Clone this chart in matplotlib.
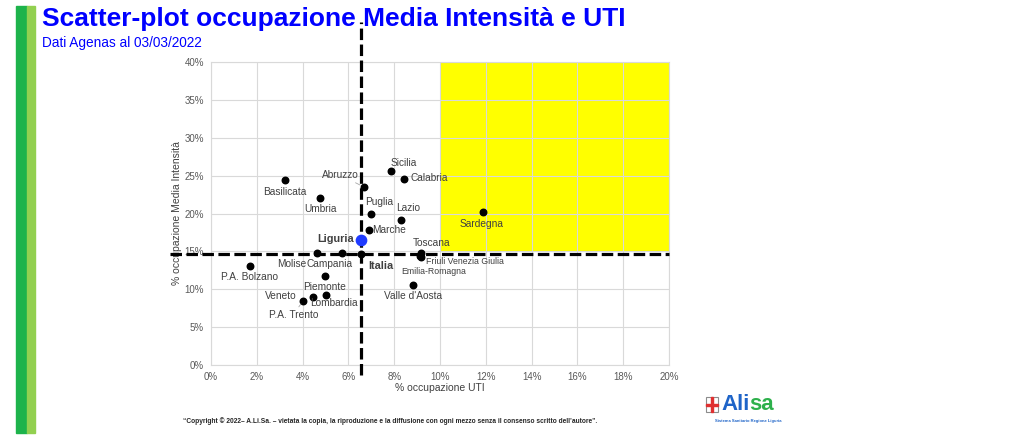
import matplotlib
matplotlib.use("Agg")
import matplotlib.pyplot as plt
from matplotlib.patches import Rectangle
from matplotlib.ticker import PercentFormatter

plt.rcParams['font.family'] = ['Liberation Sans', 'DejaVu Sans']

# % occupazione UTI (x) e Media Intensità (y)
regioni = ["Basilicata", "Umbria", "Abruzzo", "Sicilia", "Calabria", "Puglia",
           "Lazio", "Marche", "Molise", "Campania", "P.A. Bolzano", "Piemonte",
           "P.A. Trento", "Veneto", "Lombardia", "Valle d'Aosta", "Toscana",
           "Friuli Venezia Giulia", "Emilia-Romagna", "Sardegna"]
uti = [3.23, 4.76, 6.68, 7.86, 8.43, 6.99, 8.28, 6.91, 4.64, 5.71, 1.70, 4.98,
       4.03, 4.47, 5.01, 8.83, 9.17, 9.17, 9.13, 11.86]
media = [24.4, 22.1, 23.5, 25.6, 24.5, 19.9, 19.2, 17.8, 14.8, 14.8, 13.1, 11.8,
         8.5, 9.0, 9.2, 10.5, 14.75, 14.2, 14.4, 20.2]
# offset etichette in pixel (dx, dy verso l'alto) e allineamento
offsets = [(0, -12, 'center'), (0, -11, 'center'), (-24, 12, 'center'),
           (13, 8, 'center'), (6, 1, 'left'), (8, 12, 'center'),
           (8, 12, 'center'), (3, 0, 'left'), (-11, -11, 'right'),
           (-12, -11, 'center'), (0, -11, 'center'), (0, -11, 'center'),
           (-10, -14, 'center'), (-17, 1, 'right'), (8, -8, 'center'),
           (0, -11, 'center'), (11, 10, 'center'), (5, -4, 'left'),
           (14, -16, 'center'), (-1, -12, 'center')]
leader = ["Abruzzo", "P.A. Trento"]
small = ["Friuli Venezia Giulia", "Emilia-Romagna"]

liguria = (6.56, 16.5)
italia = (6.56, 14.65)

W, H = 1024, 442
fig = plt.figure(figsize=(W / 100, H / 100), dpi=100)


def fx(px):
    return px / W


def fy(py):
    return 1 - py / H


# barre verdi laterali
fig.patches.append(Rectangle((fx(16), fy(433)), fx(11), (433 - 6) / H,
                             transform=fig.transFigure, color='#1DB34B'))
fig.patches.append(Rectangle((fx(27), fy(433)), fx(8), (433 - 6) / H,
                             transform=fig.transFigure, color='#92D050'))

fig.text(fx(42), fy(19), "Scatter-plot occupazione Media Intensità e UTI",
         color='#0000FF', fontsize=19, fontweight='bold', va='center')
fig.text(fx(42), fy(43), "Dati Agenas al 03/03/2022", color='#0000FF',
         fontsize=9.8, va='center')

ax = fig.add_axes([fx(211), fy(365), fx(669 - 211), (365 - 62) / H])
ax.set_xlim(0, 20)
ax.set_ylim(0, 40)
ax.set_xticks(range(0, 21, 2))
ax.set_yticks(range(0, 41, 5))
ax.xaxis.set_major_formatter(PercentFormatter(decimals=0))
ax.yaxis.set_major_formatter(PercentFormatter(decimals=0))
ax.tick_params(length=0, labelsize=7, labelcolor='#595959', pad=5)
ax.grid(True, color='#D9D9D9', lw=0.8)
ax.set_axisbelow(True)
for s in ax.spines.values():
    s.set_color('#D9D9D9')
    s.set_linewidth(0.8)

ax.add_patch(Rectangle((10, 15), 10, 25, facecolor='#FFFF00',
                       edgecolor='#BFBFBF', lw=0.6, zorder=0.3))

ax.set_xlabel("% occupazione UTI", fontsize=7.5, color='#404040', labelpad=1)
ax.set_ylabel("% occupazione Media Intensità", fontsize=7.5, color='#404040',
              labelpad=2)

# linee di riferimento Italia
ax.plot([italia[0], italia[0]], [-1.3, 45.3], color='black', lw=2.3,
        dashes=(3.6, 1.4), clip_on=False, zorder=3)
ax.plot([-1.8, 20], [italia[1], italia[1]], color='black', lw=2.3,
        dashes=(3.6, 1.4), clip_on=False, zorder=3)

ax.scatter(uti, media, s=22, color='black', zorder=4)
for name, x, y, (dx, dy, ha) in zip(regioni, uti, media, offsets):
    fs = 6.3 if name in small else 7.3
    props = None
    if name in leader:
        props = dict(arrowstyle='-', color='#A6A6A6', lw=0.6,
                     shrinkA=0, shrinkB=3)
    ax.annotate(name, (x, y), xytext=(dx, dy), textcoords='offset pixels',
                ha=ha, va='center', fontsize=fs, color='#404040',
                arrowprops=props, zorder=5)

ax.scatter([italia[0]], [italia[1]], s=22, color='black', zorder=4)
ax.annotate("Italia", italia, xytext=(7, -12), textcoords='offset pixels',
            ha='left', va='center', fontsize=7.8, fontweight='bold',
            color='#404040', zorder=5)
ax.scatter([liguria[0]], [liguria[1]], s=55, color='#1F3BFF', zorder=5)
ax.annotate("Liguria", liguria, xytext=(-7, 1), textcoords='offset pixels',
            ha='right', va='center', fontsize=7.8, fontweight='bold',
            color='#404040', zorder=5)

fig.text(fx(183), fy(421),
         "\u201cCopyright \u00a9 2022\u2013 A.Li.Sa. \u2013 vietata la copia, la riproduzione e la "
         "diffusione con ogni mezzo senza il consenso scritto dell\u2019autore\u201d.",
         fontsize=4.8, color='#262626', va='center', fontweight='bold')

# logo Alisa
fig.patches.append(Rectangle((fx(706), fy(412)), fx(12), 15 / H,
                             transform=fig.transFigure, facecolor='white',
                             edgecolor='#8C8C8C', lw=0.8))
fig.patches.append(Rectangle((fx(711), fy(412)), fx(2), 15 / H,
                             transform=fig.transFigure, color='#E03030'))
fig.patches.append(Rectangle((fx(706), fy(405.5)), fx(12), 2 / H,
                             transform=fig.transFigure, color='#E03030'))
logo = dict(fontsize=16, fontweight='bold', va='center')
ali = fig.text(fx(721), fy(404), "Ali", color='#1E64C8', **logo)
fig.canvas.draw()
x_sa = ali.get_window_extent().x1 + 0.3
fig.text(x_sa / W, fy(404), "sa", color='#2DB04B', **logo)
fig.text(fx(748), fy(421), "Sistema Sanitario Regione Liguria", color='#1E64C8',
         fontsize=3, ha='center', va='center', fontweight='bold')

fig.savefig("out.png", dpi=100)
